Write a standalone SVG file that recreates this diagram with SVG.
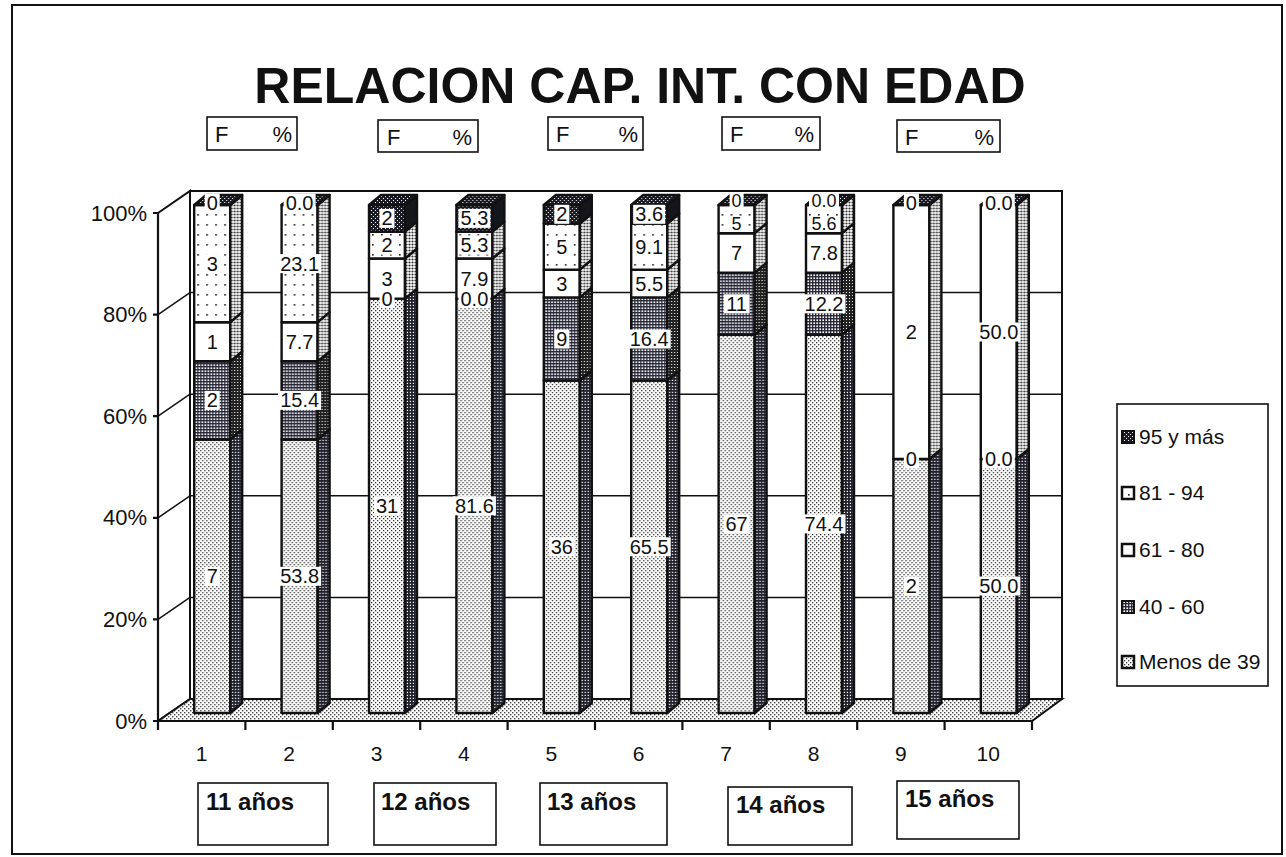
<svg xmlns="http://www.w3.org/2000/svg" xmlns:xlink="http://www.w3.org/1999/xlink" width="1286" height="857" viewBox="0 0 1286 857">
<defs>
<pattern id="pM" width="4" height="4" patternUnits="userSpaceOnUse"><rect width="4" height="4" fill="#fff"/><rect width="1.3" height="1.3" fill="#333"/><rect x="2" y="2" width="1.3" height="1.3" fill="#333"/></pattern>
<pattern id="pF" width="4" height="4" patternUnits="userSpaceOnUse"><rect width="4" height="4" fill="#fff"/><rect width="1.4" height="1.4" fill="#444"/><rect x="2" y="2" width="1.4" height="1.4" fill="#444"/></pattern>
<pattern id="pG" width="3" height="3" patternUnits="userSpaceOnUse"><rect width="3" height="3" fill="#fff"/><rect width="3" height="1.4" fill="#2a2a3a"/><rect width="1.4" height="3" fill="#2a2a3a"/></pattern>
<pattern id="pGs" width="3" height="3" patternUnits="userSpaceOnUse"><rect width="3" height="3" fill="#fff"/><rect width="3" height="1.8" fill="#22222e"/><rect width="1.8" height="3" fill="#22222e"/></pattern>
<pattern id="pD" width="3" height="3" patternUnits="userSpaceOnUse"><rect width="3" height="3" fill="#222"/><rect x="1" y="1" width="1" height="1" fill="#fff"/></pattern>
<pattern id="pS" width="3" height="3" patternUnits="userSpaceOnUse"><rect width="3" height="3" fill="#fff"/><circle cx="1.5" cy="1.5" r="1.1" fill="#333"/></pattern>
<pattern id="p81" width="9" height="10" patternUnits="userSpaceOnUse"><rect width="9" height="10" fill="#fff"/><rect x="3" y="4" width="1.7" height="1.7" fill="#333"/></pattern>
<pattern id="p95" width="4" height="4" patternUnits="userSpaceOnUse"><rect width="4" height="4" fill="#1a1a24"/><rect width="1" height="1" fill="#fff"/><rect x="2" y="2" width="1" height="1" fill="#fff"/></pattern>
<style>
.t{font-family:"Liberation Sans",Arial,sans-serif;fill:#111}
.title{font-size:50px;font-weight:bold}
.ax{font-size:22px}
.cat{font-size:21px;text-anchor:middle}
.lbl{font-size:20px;text-anchor:middle}
.sm{font-size:18px}
.lg{font-size:21px}
.age{font-size:24px;font-weight:bold}
.fp{font-size:22px}
.box{fill:#fff;stroke:#111;stroke-width:1.6}
.lb{fill:#fff}
.s{stroke:#111;stroke-width:2.4;stroke-linejoin:round}
.m{fill:url(#pM)}.ms{fill:url(#pGs)}
.g{fill:url(#pG)}.gd{fill:url(#pD)}
.w{fill:#fff}.sd{fill:url(#pS)}
.d{fill:url(#p81)}
.k{fill:url(#p95)}.kk{fill:#15151c}
.grid{stroke:#111;stroke-width:1.5;fill:none}
.axis{stroke:#111;stroke-width:2.2;fill:none}
</style>
<g id="s12">
<rect class="s m" x="0" y="439.5" width="36" height="273.5"/><polygon class="s ms" points="36,713 48,703 48,429.5 36,439.5"/>
<rect class="s g" x="0" y="361.3" width="36" height="78.2"/><polygon class="s gd" points="36,439.5 48,429.5 48,351.3 36,361.3"/>
<rect class="s w" x="0" y="322.2" width="36" height="39.1"/><polygon class="s sd" points="36,361.3 48,351.3 48,312.2 36,322.2"/>
<rect class="s d" x="0" y="205" width="36" height="117.2"/><polygon class="s sd" points="36,322.2 48,312.2 48,195 36,205"/>
<polygon class="s k" points="0,205 36,205 48,195 12,195"/>
</g>
<g id="s34">
<rect class="s m" x="0" y="298.6" width="36" height="414.4"/><polygon class="s ms" points="36,713 48,703 48,288.6 36,298.6"/>
<rect class="s w" x="0" y="258.5" width="36" height="40.1"/><polygon class="s sd" points="36,298.6 48,288.6 48,248.5 36,258.5"/>
<rect class="s d" x="0" y="231.7" width="36" height="26.8"/><polygon class="s sd" points="36,258.5 48,248.5 48,221.7 36,231.7"/>
<rect class="s k" x="0" y="205" width="36" height="26.7"/><polygon class="s kk" points="36,231.7 48,221.7 48,195 36,205"/>
<polygon class="s k" points="0,205 36,205 48,195 12,195"/>
</g>
<g id="s56">
<rect class="s m" x="0" y="380.5" width="36" height="332.5"/><polygon class="s ms" points="36,713 48,703 48,370.5 36,380.5"/>
<rect class="s g" x="0" y="297.4" width="36" height="83.1"/><polygon class="s gd" points="36,380.5 48,370.5 48,287.4 36,297.4"/>
<rect class="s w" x="0" y="269.7" width="36" height="27.7"/><polygon class="s sd" points="36,297.4 48,287.4 48,259.7 36,269.7"/>
<rect class="s d" x="0" y="223.5" width="36" height="46.2"/><polygon class="s sd" points="36,269.7 48,259.7 48,213.5 36,223.5"/>
<rect class="s k" x="0" y="205" width="36" height="18.5"/><polygon class="s kk" points="36,223.5 48,213.5 48,195 36,205"/>
<polygon class="s k" points="0,205 36,205 48,195 12,195"/>
</g>
<g id="s78">
<rect class="s m" x="0" y="334.8" width="36" height="378.2"/><polygon class="s ms" points="36,713 48,703 48,324.8 36,334.8"/>
<rect class="s g" x="0" y="272.7" width="36" height="62.1"/><polygon class="s gd" points="36,334.8 48,324.8 48,262.7 36,272.7"/>
<rect class="s w" x="0" y="233.2" width="36" height="39.5"/><polygon class="s sd" points="36,272.7 48,262.7 48,223.2 36,233.2"/>
<rect class="s d" x="0" y="205" width="36" height="28.2"/><polygon class="s sd" points="36,233.2 48,223.2 48,195 36,205"/>
<polygon class="s k" points="0,205 36,205 48,195 12,195"/>
</g>
<g id="s910">
<rect class="s m" x="0" y="459" width="36" height="254"/><polygon class="s ms" points="36,713 48,703 48,449 36,459"/>
<rect class="s w" x="0" y="205" width="36" height="254"/><polygon class="s sd" points="36,459 48,449 48,195 36,205"/>
<polygon class="s k" points="0,205 36,205 48,195 12,195"/>
</g>
</defs>

<rect x="0" y="0" width="1286" height="857" fill="#fff"/>
<rect x="12" y="5" width="1270" height="849" fill="none" stroke="#111" stroke-width="2"/>

<g id="title"><text class="t title" x="640" y="103" text-anchor="middle">RELACION CAP. INT. CON EDAD</text></g>

<g id="fp-boxes">
<g id="fp1"><rect class="box" x="207" y="117" width="90" height="33"/><text class="t fp" x="215" y="142">F</text><text class="t fp" x="292" y="142" text-anchor="end">%</text></g>
<g id="fp2"><rect class="box" x="378" y="120" width="100" height="32"/><text class="t fp" x="387" y="145">F</text><text class="t fp" x="472" y="145" text-anchor="end">%</text></g>
<g id="fp3"><rect class="box" x="548" y="117" width="95" height="33"/><text class="t fp" x="556" y="142">F</text><text class="t fp" x="638" y="142" text-anchor="end">%</text></g>
<g id="fp4"><rect class="box" x="722" y="117" width="98" height="33"/><text class="t fp" x="730" y="142">F</text><text class="t fp" x="814" y="142" text-anchor="end">%</text></g>
<g id="fp5"><rect class="box" x="897" y="120" width="103" height="32"/><text class="t fp" x="905" y="145">F</text><text class="t fp" x="994" y="145" text-anchor="end">%</text></g>
</g>

<g id="plot-area">
<rect x="190" y="191" width="872" height="508" fill="#fff" stroke="#111" stroke-width="2"/>
<polygon points="158,213 190,191 190,699 158,721" fill="#fff" stroke="#111" stroke-width="2"/>
<polygon points="158,721 1032,721 1062,699 190,699" fill="url(#pF)" stroke="#111" stroke-width="2"/>
<path class="grid" d="M190 292.6H1062M190 394.2H1062M190 495.8H1062M190 597.4H1062M158 314.6L190 292.6M158 416.2L190 394.2M158 517.8L190 495.8M158 619.4L190 597.4"/>
<path class="axis" d="M158 213V721M153 213H158M153 314.6H158M153 416.2H158M153 517.8H158M153 619.4H158M153 721H158M158 721H1032M158 721V730M245.4 721V730M332.8 721V730M420.2 721V730M507.6 721V730M595 721V730M682.4 721V730M769.8 721V730M857.2 721V730M944.6 721V730M1032 721V730"/>
</g>

<g id="y-labels">
<text class="t ax" x="147" y="221" text-anchor="end">100%</text>
<text class="t ax" x="147" y="322" text-anchor="end">80%</text>
<text class="t ax" x="147" y="424" text-anchor="end">60%</text>
<text class="t ax" x="147" y="525" text-anchor="end">40%</text>
<text class="t ax" x="147" y="627" text-anchor="end">20%</text>
<text class="t ax" x="147" y="729" text-anchor="end">0%</text>
</g>

<g id="x-labels">
<text class="t cat" x="201.7" y="761">1</text>
<text class="t cat" x="289.1" y="761">2</text>
<text class="t cat" x="376.5" y="761">3</text>
<text class="t cat" x="463.9" y="761">4</text>
<text class="t cat" x="551.3" y="761">5</text>
<text class="t cat" x="638.7" y="761">6</text>
<text class="t cat" x="726.1" y="761">7</text>
<text class="t cat" x="813.5" y="761">8</text>
<text class="t cat" x="900.9" y="761">9</text>
<text class="t cat" x="988.3" y="761">10</text>
</g>

<g id="bar1" transform="translate(194.2,0)"><use xlink:href="#s12"/>
<rect class="lb" x="10.5" y="566.8" width="15" height="19"/><text class="t lbl" x="18" y="583.3">7</text>
<rect class="lb" x="10.5" y="390.9" width="15" height="19"/><text class="t lbl" x="18" y="407.4">2</text>
<rect class="lb" x="10.5" y="332.3" width="15" height="19"/><text class="t lbl" x="18" y="348.8">1</text>
<rect class="lb" x="10.5" y="254.1" width="15" height="19"/><text class="t lbl" x="18" y="270.6">3</text>
<rect class="lb" x="10.5" y="193.5" width="15" height="19"/><text class="t lbl" x="18" y="210">0</text>
</g>
<g id="bar2" transform="translate(281.6,0)"><use xlink:href="#s12"/>
<rect class="lb" x="-3.5" y="566.8" width="43" height="19"/><text class="t lbl" x="18" y="583.3">53.8</text>
<rect class="lb" x="-3.5" y="390.9" width="43" height="19"/><text class="t lbl" x="18" y="407.4">15.4</text>
<rect class="lb" x="2" y="332.3" width="32" height="19"/><text class="t lbl" x="18" y="348.8">7.7</text>
<rect class="lb" x="-3.5" y="254.1" width="43" height="19"/><text class="t lbl" x="18" y="270.6">23.1</text>
<rect class="lb" x="2" y="193.5" width="32" height="19"/><text class="t lbl" x="18" y="210">0.0</text>
</g>
<g id="bar3" transform="translate(369,0)"><use xlink:href="#s34"/>
<rect class="lb" x="5" y="496.3" width="26" height="19"/><text class="t lbl" x="18" y="512.8">31</text>
<rect class="lb" x="10.5" y="289.1" width="15" height="19"/><text class="t lbl" x="18" y="305.6">0</text>
<rect class="lb" x="10.5" y="269.1" width="15" height="19"/><text class="t lbl" x="18" y="285.6">3</text>
<rect class="lb" x="10.5" y="235.6" width="15" height="19"/><text class="t lbl" x="18" y="252.1">2</text>
<rect class="lb" x="10.5" y="208.9" width="15" height="19"/><text class="t lbl" x="18" y="225.4">2</text>
</g>
<g id="bar4" transform="translate(456.4,0)"><use xlink:href="#s34"/>
<rect class="lb" x="-3.5" y="496.3" width="43" height="19"/><text class="t lbl" x="18" y="512.8">81.6</text>
<rect class="lb" x="2" y="289.1" width="32" height="19"/><text class="t lbl" x="18" y="305.6">0.0</text>
<rect class="lb" x="2" y="269.1" width="32" height="19"/><text class="t lbl" x="18" y="285.6">7.9</text>
<rect class="lb" x="2" y="235.6" width="32" height="19"/><text class="t lbl" x="18" y="252.1">5.3</text>
<rect class="lb" x="2" y="208.9" width="32" height="19"/><text class="t lbl" x="18" y="225.4">5.3</text>
</g>
<g id="bar5" transform="translate(543.8,0)"><use xlink:href="#s56"/>
<rect class="lb" x="5" y="537.3" width="26" height="19"/><text class="t lbl" x="18" y="553.8">36</text>
<rect class="lb" x="10.5" y="329.5" width="15" height="19"/><text class="t lbl" x="18" y="346">9</text>
<rect class="lb" x="10.5" y="274.1" width="15" height="19"/><text class="t lbl" x="18" y="290.6">3</text>
<rect class="lb" x="10.5" y="237.1" width="15" height="19"/><text class="t lbl" x="18" y="253.6">5</text>
<rect class="lb" x="10.5" y="204.8" width="15" height="19"/><text class="t lbl" x="18" y="221.3">2</text>
</g>
<g id="bar6" transform="translate(631.2,0)"><use xlink:href="#s56"/>
<rect class="lb" x="-3.5" y="537.3" width="43" height="19"/><text class="t lbl" x="18" y="553.8">65.5</text>
<rect class="lb" x="-3.5" y="329.5" width="43" height="19"/><text class="t lbl" x="18" y="346">16.4</text>
<rect class="lb" x="2" y="274.1" width="32" height="19"/><text class="t lbl" x="18" y="290.6">5.5</text>
<rect class="lb" x="2" y="237.1" width="32" height="19"/><text class="t lbl" x="18" y="253.6">9.1</text>
<rect class="lb" x="2" y="204.8" width="32" height="19"/><text class="t lbl" x="18" y="221.3">3.6</text>
</g>
<g id="bar7" transform="translate(718.6,0)"><use xlink:href="#s78"/>
<rect class="lb" x="5" y="514.4" width="26" height="19"/><text class="t lbl" x="18" y="530.9">67</text>
<rect class="lb" x="5" y="294.3" width="26" height="19"/><text class="t lbl" x="18" y="310.8">11</text>
<rect class="lb" x="10.5" y="243.5" width="15" height="19"/><text class="t lbl" x="18" y="260">7</text>
<rect class="lb" x="11" y="216" width="14" height="16"/><text class="t lbl sm" x="18" y="230">5</text>
<rect class="lb" x="11" y="193" width="14" height="16"/><text class="t lbl sm" x="18" y="207">0</text>
</g>
<g id="bar8" transform="translate(806,0)"><use xlink:href="#s78"/>
<rect class="lb" x="-3.5" y="514.4" width="43" height="19"/><text class="t lbl" x="18" y="530.9">74.4</text>
<rect class="lb" x="-3.5" y="294.3" width="43" height="19"/><text class="t lbl" x="18" y="310.8">12.2</text>
<rect class="lb" x="2" y="243.5" width="32" height="19"/><text class="t lbl" x="18" y="260">7.8</text>
<rect class="lb" x="3" y="216" width="30" height="16"/><text class="t lbl sm" x="18" y="230">5.6</text>
<rect class="lb" x="3" y="193" width="30" height="16"/><text class="t lbl sm" x="18" y="207">0.0</text>
</g>
<g id="bar9" transform="translate(893.4,0)"><use xlink:href="#s910"/>
<rect class="lb" x="10.5" y="576.5" width="15" height="19"/><text class="t lbl" x="18" y="593">2</text>
<rect class="lb" x="10.5" y="449.5" width="15" height="19"/><text class="t lbl" x="18" y="466">0</text>
<rect class="lb" x="10.5" y="322.5" width="15" height="19"/><text class="t lbl" x="18" y="339">2</text>
<rect class="lb" x="10.5" y="193.5" width="15" height="19"/><text class="t lbl" x="18" y="210">0</text>
</g>
<g id="bar10" transform="translate(980.8,0)"><use xlink:href="#s910"/>
<rect class="lb" x="-3.5" y="576.5" width="43" height="19"/><text class="t lbl" x="18" y="593">50.0</text>
<rect class="lb" x="2" y="449.5" width="32" height="19"/><text class="t lbl" x="18" y="466">0.0</text>
<rect class="lb" x="-3.5" y="322.5" width="43" height="19"/><text class="t lbl" x="18" y="339">50.0</text>
<rect class="lb" x="2" y="193.5" width="32" height="19"/><text class="t lbl" x="18" y="210">0.0</text>
</g>

<g id="age-boxes">
<g id="age11"><rect class="box" x="198" y="783" width="130" height="62"/><text class="t age" x="206" y="810">11 años</text></g>
<g id="age12"><rect class="box" x="374" y="783" width="122" height="62"/><text class="t age" x="381" y="810">12 años</text></g>
<g id="age13"><rect class="box" x="540" y="783" width="127" height="62"/><text class="t age" x="547" y="810">13 años</text></g>
<g id="age14"><rect class="box" x="728" y="787" width="124" height="58"/><text class="t age" x="736" y="813">14 años</text></g>
<g id="age15"><rect class="box" x="897" y="781" width="122" height="58"/><text class="t age" x="905" y="807">15 años</text></g>
</g>

<g id="legend">
<rect class="box" x="1117" y="404" width="151" height="282"/>
<rect class="k" x="1122" y="431" width="12" height="12" stroke="#111" stroke-width="2"/><text class="t lg" x="1139" y="444">95 y más</text>
<rect class="d" x="1122" y="487" width="12" height="12" stroke="#111" stroke-width="2.5"/><text class="t lg" x="1139" y="500">81 - 94</text>
<rect class="w" x="1122" y="544" width="12" height="12" stroke="#111" stroke-width="2.5"/><text class="t lg" x="1139" y="557">61 - 80</text>
<rect class="g" x="1122" y="601" width="12" height="12" stroke="#111" stroke-width="2"/><text class="t lg" x="1139" y="614">40 - 60</text>
<rect class="m" x="1122" y="656" width="12" height="12" stroke="#111" stroke-width="2.5"/><text class="t lg" x="1139" y="669">Menos de 39</text>
</g>
</svg>
